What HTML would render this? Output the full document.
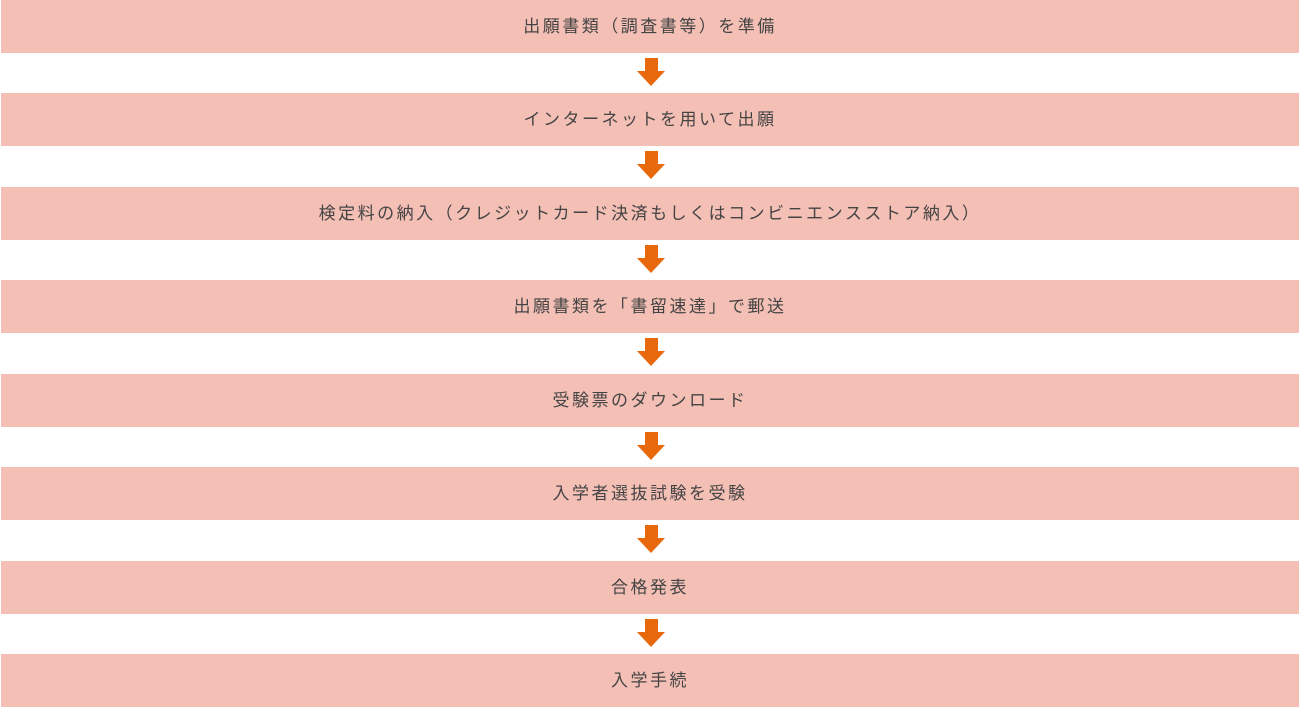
<!DOCTYPE html>
<html><head><meta charset="utf-8"><style>
body{margin:0;background:#fff;width:1300px;height:707px;position:relative;overflow:hidden;font-family:"Liberation Sans","Noto Sans CJK JP",sans-serif;}
.b{position:absolute;left:1px;width:1298px;height:53px;background:#f4bfb5;color:#444;font-size:17px;line-height:54px;text-align:center;letter-spacing:2.5px}
.a{position:absolute;left:637px;width:28px;height:28px}
</style></head><body>
<div class="b" style="top:0">出願書類（調査書等）を準備</div>
<div class="b" style="top:93px">インターネットを用いて出願</div>
<div class="b" style="top:187px">検定料の納入（クレジットカード決済もしくはコンビニエンスストア納入）</div>
<div class="b" style="top:280px">出願書類を「書留速達」で郵送</div>
<div class="b" style="top:374px">受験票のダウンロード</div>
<div class="b" style="top:467px">入学者選抜試験を受験</div>
<div class="b" style="top:561px">合格発表</div>
<div class="b" style="top:654px">入学手続</div>
<svg class="a" style="top:58px" viewBox="0 0 28 28"><polygon points="8,0 21,0 21,13 28,13 14,28 0,13 8,13" fill="#e8690b"/></svg>
<svg class="a" style="top:151px" viewBox="0 0 28 28"><polygon points="8,0 21,0 21,13 28,13 14,28 0,13 8,13" fill="#e8690b"/></svg>
<svg class="a" style="top:245px" viewBox="0 0 28 28"><polygon points="8,0 21,0 21,13 28,13 14,28 0,13 8,13" fill="#e8690b"/></svg>
<svg class="a" style="top:338px" viewBox="0 0 28 28"><polygon points="8,0 21,0 21,13 28,13 14,28 0,13 8,13" fill="#e8690b"/></svg>
<svg class="a" style="top:432px" viewBox="0 0 28 28"><polygon points="8,0 21,0 21,13 28,13 14,28 0,13 8,13" fill="#e8690b"/></svg>
<svg class="a" style="top:525px" viewBox="0 0 28 28"><polygon points="8,0 21,0 21,13 28,13 14,28 0,13 8,13" fill="#e8690b"/></svg>
<svg class="a" style="top:619px" viewBox="0 0 28 28"><polygon points="8,0 21,0 21,13 28,13 14,28 0,13 8,13" fill="#e8690b"/></svg>
</body></html>
